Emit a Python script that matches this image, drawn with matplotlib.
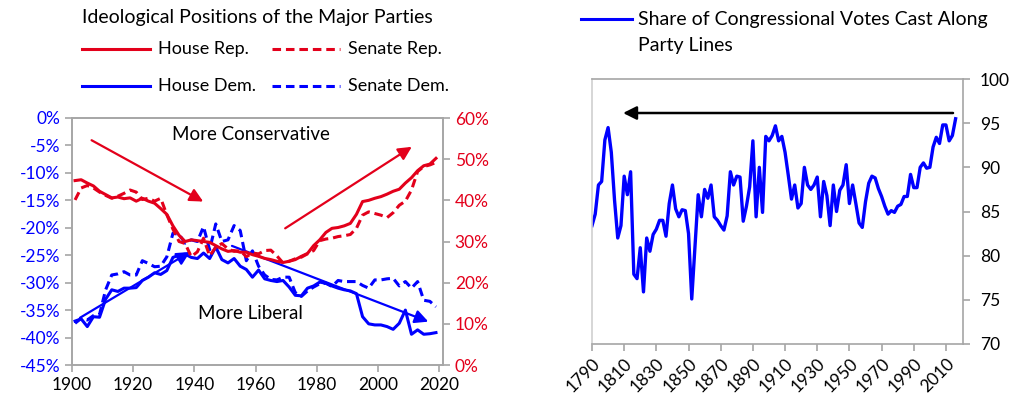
import matplotlib
matplotlib.use("Agg")
import matplotlib.pyplot as plt
import numpy as np

plt.rcParams['font.family'] = ['Lato', 'DejaVu Sans']

RED = '#e3001b'
BLUE = '#0000ff'
GRAY = '#a6a6a6'

# ---- left panel data (every other year, 1901-2019) ----
years_ideo = list(range(1901, 2020, 2))

house_rep = [44.8, 45.0, 44.2, 43.5, 42.2, 41.4, 40.6, 40.8, 40.4, 40.6,
             39.8, 40.5, 39.8, 39.3, 38.0, 36.6, 33.8, 31.5, 30.0, 30.4,
             30.2, 30.0, 29.8, 29.0, 28.2, 27.6, 27.8, 27.4, 27.4, 26.8,
             26.4, 25.9, 25.6, 25.2, 24.9, 25.2, 25.6, 26.4, 27.1, 29.0,
             30.4, 32.2, 33.2, 33.4, 33.8, 34.4, 36.6, 39.7, 40.0, 40.5,
             40.9, 41.5, 42.2, 42.7, 44.2, 45.5, 47.2, 48.4, 48.8, 50.2]

senate_rep = [40.1, 43.0, 43.6, 43.0, 42.0, 41.2, 40.5, 41.0, 41.7, 42.5,
              42.0, 40.2, 40.5, 39.8, 40.5, 36.5, 33.0, 30.0, 29.5, 26.3,
              27.5, 30.8, 26.5, 28.6, 29.5, 28.2, 27.6, 27.8, 26.3, 27.2,
              27.0, 27.8, 27.9, 26.5, 24.8, 25.2, 25.8, 26.2, 27.0, 27.8,
              30.2, 30.6, 30.8, 31.2, 31.4, 31.7, 33.2, 36.4, 37.2, 36.8,
              36.4, 35.8, 37.0, 38.8, 39.8, 42.5, 47.0, 48.2, 48.6, 49.2]

house_dem = [-37.0, -36.6, -38.0, -36.2, -36.3, -33.0, -31.3, -31.6, -31.0, -31.0,
             -30.9, -29.6, -29.0, -28.2, -28.5, -27.8, -25.4, -25.0, -24.8, -25.4,
             -25.6, -24.6, -25.6, -23.5, -25.8, -26.4, -25.6, -27.0, -27.6, -29.0,
             -27.7, -29.3, -29.6, -29.8, -29.6, -30.8, -32.3, -32.4, -31.0, -30.6,
             -29.9, -30.1, -30.6, -31.0, -31.3, -31.5, -32.0, -36.2, -37.5, -37.7,
             -37.7, -38.0, -38.5, -37.4, -35.0, -39.4, -38.6, -39.4, -39.3, -39.1]

senate_dem = [-37.4, -36.5, -36.8, -36.0, -35.8, -31.3, -28.6, -28.4, -28.0, -28.6,
              -28.6, -26.0, -26.5, -27.1, -27.0, -25.3, -21.0, -21.2, -22.8, -22.2,
              -22.5, -19.8, -24.0, -19.3, -22.5, -22.2, -19.6, -20.5, -26.0, -24.2,
              -27.0, -28.6, -29.4, -29.5, -29.0, -29.0, -31.8, -32.5, -31.5, -30.8,
              -30.2, -30.1, -30.7, -29.6, -29.8, -29.8, -29.8, -30.5, -31.0, -29.5,
              -29.5, -29.3, -29.2, -30.6, -29.8, -31.0, -29.8, -33.2, -33.4, -34.4]

# ---- right panel data (every other year, 1790-2016) ----
years_votes = list(range(1790, 2017, 2))
party_line_share = [
    83.4, 84.7, 88.0, 88.4, 93.1, 94.5, 91.7, 86.3, 82.0, 83.4,
    89.0, 86.9, 89.5, 77.9, 77.4, 80.9, 75.9, 82.0, 80.5, 82.4,
    83.0, 84.0, 84.0, 82.2, 85.9, 88.0, 85.3, 84.4, 85.2, 85.1,
    82.5, 75.1, 81.0, 86.9, 84.4, 87.5, 86.5, 88.0, 84.4, 84.0,
    83.4, 82.9, 84.5, 89.5, 88.0, 89.0, 88.9, 83.9, 85.6, 87.8,
    93.0, 84.4, 90.0, 84.9, 93.5, 93.0, 93.6, 94.7, 93.0, 93.5,
    91.7, 89.1, 86.4, 88.0, 85.4, 85.9, 90.0, 88.0, 87.5, 88.0,
    88.9, 84.4, 88.4, 86.8, 83.4, 88.0, 85.0, 87.4, 88.0, 90.3,
    85.9, 88.0, 85.9, 83.7, 83.2, 86.1, 88.2, 89.0, 88.8, 87.6,
    86.7, 85.6, 84.7, 85.1, 84.9, 85.6, 85.8, 86.7, 86.7, 89.2,
    87.7, 87.7, 90.0, 90.5, 89.9, 90.0, 92.3, 93.4, 92.7, 94.8,
    94.8, 93.0, 93.6, 95.5]

W, H = 1019, 404
fig = plt.figure(figsize=(W / 100, H / 100), dpi=100)


def box(x0, y0, x1, y1):
    return [x0 / W, 1 - y1 / H, (x1 - x0) / W, (y1 - y0) / H]


def style_axes(a, color=GRAY):
    for s in a.spines.values():
        s.set_color(color)
        s.set_linewidth(1.2)
    a.tick_params(which='both', direction='out', length=5, width=1.2,
                  color=color, labelsize=12.5)


# ================= left panel =================
ax = fig.add_axes(box(72, 118, 443, 365))
ax2 = ax.twinx()
style_axes(ax)
style_axes(ax2)

ax.plot(years_ideo, house_dem, color=BLUE, lw=2.2)
ax.plot(years_ideo, senate_dem, color=BLUE, lw=2.2, dashes=(2.8, 1.6))
ax2.plot(years_ideo, house_rep, color=RED, lw=2.2)
ax2.plot(years_ideo, senate_rep, color=RED, lw=2.2, dashes=(2.8, 1.6))

ax.set_xlim(1900, 2021.3)
ax.set_ylim(-45, 0)
ax2.set_ylim(0, 60)
ax.set_xticks(range(1900, 2021, 20))
ax.set_yticks(range(-45, 1, 5))
ax.set_yticklabels([f'{v}%' for v in range(-45, 1, 5)], color=BLUE)
ax2.set_yticks(range(0, 61, 10))
ax2.set_yticklabels([f'{v}%' for v in range(0, 61, 10)], color=RED)

arrow = dict(arrowstyle='-|>', mutation_scale=20, lw=1.6, shrinkA=0, shrinkB=0)
ax2.annotate('', xy=(1942.9, 39.7), xytext=(1906.4, 54.6),
             arrowprops=dict(arrow, color=RED))
ax2.annotate('', xy=(2011.1, 53.0), xytext=(1969.7, 33.2),
             arrowprops=dict(arrow, color=RED))
ax.annotate('', xy=(1938.6, -24.4), xytext=(1902.6, -36.4),
            arrowprops=dict(arrow, color=BLUE))
ax.annotate('', xy=(2016.5, -37.1), xytext=(1952.3, -23.3),
            arrowprops=dict(arrow, color=BLUE))

ax.text(1958.5, -3.0, 'More Conservative', ha='center', va='center', fontsize=13.5)
ax.text(1958.5, -35.6, 'More Liberal', ha='center', va='center', fontsize=13.5)

# ================= right panel =================
bx = fig.add_axes(box(592, 79, 963, 344))
style_axes(bx)
bx.spines['left'].set_color('#d0d0d0')
bx.plot(years_votes, party_line_share, color=BLUE, lw=2.4)
bx.set_xlim(1790, 2020.6)
bx.set_ylim(70, 100)
bx.yaxis.tick_right()
bx.set_yticks(range(70, 101, 5))
bx.set_xticks(range(1790, 2011, 20))
bx.set_xticklabels([str(y) for y in range(1790, 2011, 20)], rotation=45,
                   ha='right', rotation_mode='anchor')
bx.tick_params(axis='y', pad=7)
bx.annotate('', xy=(1809.3, 96.15), xytext=(2014.4, 96.15),
            arrowprops=dict(arrowstyle='-|>', mutation_scale=20, lw=1.8,
                            color='black', shrinkA=0, shrinkB=0))

# ================= titles / legends =================
ov = fig.add_axes([0, 0, 1, 1], facecolor='none')
ov.set_xlim(0, W)
ov.set_ylim(H, 0)
ov.axis('off')

ov.text(82, 17, 'Ideological Positions of the Major Parties', fontsize=14,
        va='center', ha='left')
legend_items = [
    (82, 49, RED, None, 'House Rep.'),
    (272, 49, RED, (2.8, 1.6), 'Senate Rep.'),
    (82, 86, BLUE, None, 'House Dem.'),
    (272, 86, BLUE, (2.8, 1.6), 'Senate Dem.'),
]
for x0, y0, c, d, lab in legend_items:
    ln, = ov.plot([x0, x0 + 68], [y0, y0], color=c, lw=2.2)
    if d:
        ln.set_dashes(d)
    ov.text(x0 + 76, y0, lab, fontsize=13, va='center', ha='left')

ov.plot([581, 632], [19, 19], color=BLUE, lw=2.2)
ov.text(638, 19, 'Share of Congressional Votes Cast Along', fontsize=14,
        va='center', ha='left')
ov.text(638, 45, 'Party Lines', fontsize=14, va='center', ha='left')

fig.savefig('out.png', dpi=100)
